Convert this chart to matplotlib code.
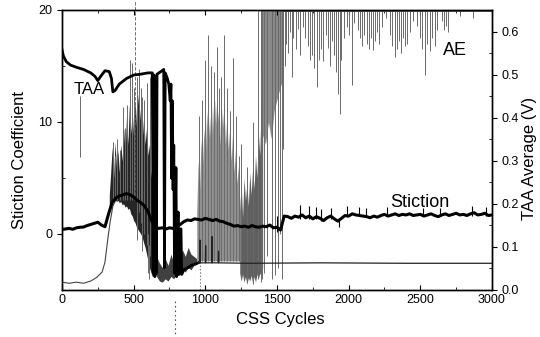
import numpy as np
import matplotlib
matplotlib.use('Agg')
import matplotlib.pyplot as plt
from matplotlib.ticker import FixedLocator

plt.rcParams['font.family'] = ['Liberation Sans', 'DejaVu Sans']

# ---------------- data ----------------
# Stiction coefficient (left axis)
stic_x = list(range(0, 3001, 25))
stic_y = [0.40, 0.45, 0.50, 0.42, 0.55, 0.60, 0.62, 0.75, 0.85, 0.95, 1.05, 0.80, 0.65,
          1.80, 2.80, 3.20, 3.40, 3.50, 3.60, 3.50, 3.30, 3.00, 2.80, 2.50, 2.00,
          1.20, 0.60, 0.50, 0.55, 0.45, 0.55, 0.50, 0.65, 0.85, 1.10, 1.25, 1.20,
          1.35, 1.30, 1.25, 1.40, 1.30, 1.20, 1.30, 1.15, 1.10, 0.95, 0.85, 0.70,
          0.75, 0.65, 0.70, 0.60, 0.75, 0.65, 0.60, 0.70, 0.65, 0.80, 0.55, 0.60,
          0.35, 1.60, 1.55, 1.40, 1.60, 1.50, 1.70, 1.45, 1.60, 1.35, 1.55, 1.40,
          1.20, 1.45, 1.60, 1.35, 1.15, 1.40, 1.65, 1.60, 1.80, 1.70, 1.65, 1.60,
          1.55, 1.45, 1.60, 1.50, 1.65, 1.75, 1.60, 1.70, 1.80, 1.65, 1.75, 1.70,
          1.80, 1.65, 1.70, 1.75, 1.60, 1.70, 1.80, 1.65, 1.55, 1.70, 1.80, 1.65,
          1.75, 1.85, 1.70, 1.75, 1.65, 1.80, 1.90, 1.70, 1.75, 1.85, 1.65, 1.70]
stic_spike_x = [1500, 1660, 1720, 1770, 1805, 1880, 1930, 1990, 2070, 2120, 2270, 2520, 2640, 2860, 2960]
stic_spike_lo = [0.2, 1.3, 1.3, 1.3, 1.2, 1.3, 0.6, 1.5, 1.6, 1.5, 1.6, 1.6, 1.6, 1.6, 1.6]
stic_spike_hi = [1.6, 2.6, 2.5, 2.4, 2.2, 2.3, 1.4, 2.5, 2.4, 2.3, 2.4, 2.3, 2.3, 2.5, 2.4]

# TAA average (right axis, V)
taa_x = [0, 10, 30, 60, 100, 150, 200, 230, 250, 270, 300, 330, 345, 355, 370, 400, 450,
         500, 550, 600, 630, 637, 642, 648, 653, 658, 663, 690, 710, 715, 720, 735, 745,
         755, 760, 765, 770, 775, 780, 785, 795, 800, 810, 815, 830, 835, 850, 880, 900,
         930, 950, 960, 962, 964, 1000, 1002, 1004, 1045, 1047, 1049, 1090, 1092, 1094,
         1300, 1800, 2400, 3000]
taa_v = [0.558, 0.543, 0.530, 0.522, 0.517, 0.512, 0.504, 0.496, 0.486, 0.496, 0.509, 0.507,
         0.491, 0.460, 0.463, 0.478, 0.491, 0.499, 0.501, 0.504, 0.504, 0.039, 0.499, 0.031,
         0.496, 0.039, 0.501, 0.507, 0.512, 0.052, 0.504, 0.491, 0.478, 0.439, 0.478, 0.259,
         0.439, 0.233, 0.336, 0.039, 0.284, 0.031, 0.181, 0.036, 0.142, 0.036, 0.047, 0.052,
         0.057, 0.060, 0.063, 0.063, 0.116, 0.063, 0.063, 0.103, 0.063, 0.063, 0.124, 0.063,
         0.063, 0.090, 0.063, 0.062, 0.063, 0.062, 0.062]

# AE signal (left-axis units): baseline trace
ae_x = [0, 50, 100, 150, 200, 240, 280, 300, 320, 335, 355, 390]
ae_y = [-4.3, -4.4, -4.3, -4.4, -4.2, -3.9, -3.4, -2.5, -0.4, 1.0, 2.5, 3.4]
# AE saturated part
ae_sat_x = [1545, 3000]
ae_sat_y = [20.0, 20.0]

# AE dense bands (lower / upper envelopes)
b1_x = list(range(330, 651, 10))
b1_lo = [2.0, 2.6, 2.9, 3.0, 3.1, 2.9, 3.0, 2.8, 2.9, 2.6, 2.7, 2.4, 2.5, 2.2, 2.3, 1.8, 1.6,
         1.2, 1.0, 0.6, 0.4, 0.2, 0.0, -0.3, -0.8, -1.2, -1.8, -2.4, -3.0, -3.4, -3.8, -3.5, -3.2]
b1_hi = [3.5, 5.5, 7.8, 5.0, 8.2, 6.0, 7.5, 5.5, 8.0, 6.5, 9.5, 7.0, 10.5, 8.0, 11.5, 9.0, 11.0,
         8.5, 12.0, 9.5, 12.5, 10.0, 11.5, 8.5, 10.5, 8.0, 9.5, 7.0, 8.0, 5.0, 6.5, 3.0, 1.0]

b2_x = [640, 660, 680, 700, 720, 740, 760, 780, 800, 820, 840, 860, 880, 900, 920, 940]
b2_lo = [-3.0, -3.8, -4.2, -4.3, -4.0, -4.2, -3.8, -4.0, -3.5, -3.6, -3.2, -3.4, -3.0, -3.2, -2.8, -2.6]
b2_hi = [0.0, -2.0, -2.6, -3.0, -2.2, -2.8, -1.8, -2.6, -1.5, -2.3, -1.4, -2.0, -1.2, -1.8, -2.0, -2.2]

b3_x = list(range(940, 1241, 10))
b3_lo = [-2.4] * 31
b3_hi = [2.0, 6.5, 4.0, 8.5, 6.0, 9.5, 7.0, 11.0, 8.0, 10.5, 7.5, 11.5, 8.5, 12.0, 9.0, 11.0,
         8.0, 12.0, 9.5, 11.5, 8.0, 10.5, 7.5, 9.5, 6.5, 9.0, 5.5, 7.5, 4.5, 6.0, 3.0]

b4_x = list(range(1240, 1401, 10))
b4_lo = [-3.5, -4.2, -3.6, -4.3, -3.8, -4.5, -3.9, -4.2, -3.7, -4.4, -3.8, -4.3, -3.6, -4.0, -3.5, -3.8, -3.0]
b4_hi = [2.0, 4.5, 1.5, 5.0, 3.0, 4.5, 2.5, 5.5, 3.5, 6.0, 4.0, 7.0, 5.0, 9.0, 7.0, 12.0, 15.0]

b5_x = [1395, 1420, 1440, 1460, 1480, 1500, 1520, 1545]
b5_lo = [9.0, 8.0, 10.0, 8.5, 11.0, 12.0, 13.0, 14.0]
b5_hi = [20.5] * 8

# AE spikes (vertical excursions)
sp_x = [125, 355, 370, 385, 405, 425, 440, 455, 475, 490, 500, 525, 537, 550, 560, 572, 593, 614, 625,
        520, 560, 600, 610,
        955, 977, 1000, 1020, 1040, 1060, 1080, 1095, 1110, 1130, 1150, 1170, 1193, 1215, 1235,
        1250, 1290, 1330, 1365, 1385, 1395,
        1410, 1430, 1465, 1485, 1505, 1520, 1535, 1545]
sp_lo = [6.9, 3.0, 3.0, 3.0, 3.0, 3.0, 3.0, 3.0, 3.0, 3.0, 3.0, 2.0, 2.0, 1.0, 1.0, 0.0, -1.0, -2.0, -3.0,
         -0.5, -1.5, -3.5, -4.0,
         -2.4, -2.4, -2.4, -2.4, -2.4, -2.4, -2.4, -2.4, -2.4, -2.4, -2.4, -2.4, -2.4, -2.4, -2.4,
         -4.0, -4.3, -4.5, -4.0, -4.3, -4.0,
         -3.5, -2.0, -4.0, -3.7, -3.0, 0.0, -4.0, 7.6]
sp_hi = [12.3, 8.2, 7.0, 8.5, 7.5, 11.3, 9.5, 11.5, 15.5, 15.3, 13.0, 14.0, 14.7, 13.0, 12.2, 12.0, 13.5, 14.0, 9.0,
         3.0, 2.0, 0.0, -1.0,
         10.5, 12.0, 15.5, 17.8, 15.0, 14.5, 16.7, 13.0, 14.0, 17.8, 13.0, 11.0, 15.7, 10.5, 7.0,
         8.0, 6.0, 10.0, 21.0, 21.0, 21.0,
         21.0, 21.0, 21.0, 21.0, 21.0, 21.0, 21.0, 21.0]

# AE downward spikes from saturation
dn_x = [1555, 1565, 1577, 1590, 1605, 1615, 1633, 1645, 1660, 1680, 1695, 1715, 1730, 1745, 1760,
        1778, 1790, 1805, 1820, 1840, 1855, 1870, 1885, 1900, 1915, 1928, 1940, 1950, 1965, 1985,
        2000, 2023, 2040, 2065, 2080, 2095, 2110, 2125, 2140, 2155, 2170, 2185, 2200, 2215, 2233,
        2260, 2290, 2305, 2323, 2335, 2350, 2365, 2380, 2395, 2410, 2430, 2450, 2480, 2500, 2515,
        2533, 2550, 2565, 2580, 2600, 2615, 2650, 2665, 2680, 2695, 2780, 2870]
dn_lo = [15.0, 17.0, 16.2, 18.0, 14.0, 17.5, 16.5, 18.3, 16.0, 18.5, 17.5, 16.8, 15.5, 16.0, 14.8,
         13.1, 15.5, 16.5, 15.4, 17.8, 16.6, 15.0, 17.2, 16.0, 14.5, 12.5, 10.7, 15.5, 17.5, 18.5,
         17.8, 13.3, 18.8, 18.2, 17.5, 16.8, 17.8, 17.0, 16.5, 17.5, 16.4, 17.2, 18.0, 17.0, 18.5,
         19.3, 17.8, 16.8, 15.8, 16.5, 17.2, 16.2, 17.5, 16.8, 17.0, 18.0, 19.0, 18.6, 17.5, 16.5,
         14.2, 17.0, 16.3, 17.5, 16.8, 18.2, 19.0, 18.2, 18.6, 18.0, 19.5, 19.3]

# ---------------- figure ----------------
fig = plt.figure(figsize=(5.4, 3.37), dpi=100)
ax = fig.add_axes([0.1148, 0.1395, 0.7963, 0.8309])
ax.set_xlim(0, 3000)
ax.set_ylim(-5, 20)

grey = '#6a6a6a'
ax.fill_between(b1_x, b1_lo, b1_hi, color='#262626', lw=0, zorder=1)
ax.fill_between(b2_x, b2_lo, b2_hi, color='#404040', lw=0, zorder=1)
ax.fill_between(b3_x, b3_lo, b3_hi, color='#909090', lw=0, zorder=1)
ax.fill_between(b4_x, b4_lo, b4_hi, color='#606060', lw=0, zorder=1)
ax.fill_between(b5_x, b5_lo, b5_hi, color='#8a8a8a', lw=0, zorder=1)
ax.vlines(sp_x, sp_lo, sp_hi, color=grey, lw=0.7, zorder=2)
ax.vlines(dn_x, dn_lo, [20.5] * len(dn_x), color=grey, lw=0.7, zorder=2)
ax.plot(ae_x, ae_y, color='#444444', lw=0.8, zorder=2)
ax.plot(ae_sat_x, ae_sat_y, color='#555555', lw=2.0, zorder=2)

# scan marks (dashed vertical lines)
ax.plot([510, 510], [3.0, 20.9], color='#555555', lw=0.6, ls=(0, (4, 2)), clip_on=False, zorder=2)
ax.plot([790, 790], [-6.0, -9.0], color='#555555', lw=0.8, ls=(0, (1.5, 2.5)), clip_on=False)
ax.plot([965, 965], [-5.0, -2.5], color='#888888', lw=0.8, ls=(0, (1.5, 1.5)), zorder=2)

# stiction
ax.plot(stic_x, stic_y, color='black', lw=2.2, zorder=4)
ax.vlines(stic_spike_x, stic_spike_lo, stic_spike_hi, color='black', lw=0.8, zorder=4)

# TAA on right axis
ax2 = ax.twinx()
ax2.set_ylim(0, 0.65)
tx = np.array(taa_x)
tv = np.array(taa_v)
m1 = tx <= 950
m2 = tx >= 950
ax2.plot(tx[m1], tv[m1], color='black', lw=2.0, zorder=3)
ax2.plot(tx[m2], tv[m2], color='#222222', lw=0.9, zorder=3)

# text labels
ax.text(188, 12.9, 'TAA', ha='center', va='center', fontsize=12)
ax.text(2742, 16.4, 'AE', ha='center', va='center', fontsize=13)
ax.text(2498, 2.8, 'Stiction', ha='center', va='center', fontsize=13)

# ticks
ax.xaxis.set_major_locator(FixedLocator([0, 500, 1000, 1500, 2000, 2500, 3000]))
ax.xaxis.set_minor_locator(FixedLocator([250, 750, 1250, 1750, 2250, 2750]))
ax.yaxis.set_major_locator(FixedLocator([0, 10, 20]))
ax.yaxis.set_minor_locator(FixedLocator([-5, 5, 15]))
ax2.yaxis.set_major_locator(FixedLocator([0.0, 0.1, 0.2, 0.3, 0.4, 0.5, 0.6]))
ax2.yaxis.set_minor_locator(FixedLocator([0.05, 0.15, 0.25, 0.35, 0.45, 0.55]))
ax2.set_yticklabels(['0.0', '0.1', '0.2', '0.3', '0.4', '0.5', '0.6'])

ax.tick_params(axis='x', which='major', direction='in', length=3.5, top=True, labelsize=9, pad=3)
ax.tick_params(axis='x', which='minor', direction='in', length=2, top=True)
ax.tick_params(axis='y', which='major', direction='out', length=3.5, labelsize=9, right=False)
ax.tick_params(axis='y', which='minor', direction='in', length=2, right=False)
ax2.tick_params(axis='y', which='major', direction='out', length=3.5, labelsize=9)
ax2.tick_params(axis='y', which='minor', direction='in', length=2)

for a in (ax, ax2):
    for s in a.spines.values():
        s.set_linewidth(1.0)
        s.set_color('black')

ax.set_xlabel('CSS Cycles', fontsize=12)
ax.set_ylabel('Stiction Coefficient', fontsize=12)
ax2.set_ylabel('TAA Average (V)', fontsize=12)
ax.xaxis.set_label_coords(0.507, -0.08)
ax.yaxis.set_label_coords(-0.081, 0.464)
ax2.yaxis.set_label_coords(1.07, 0.47)

fig.savefig('out.png', dpi=100)
